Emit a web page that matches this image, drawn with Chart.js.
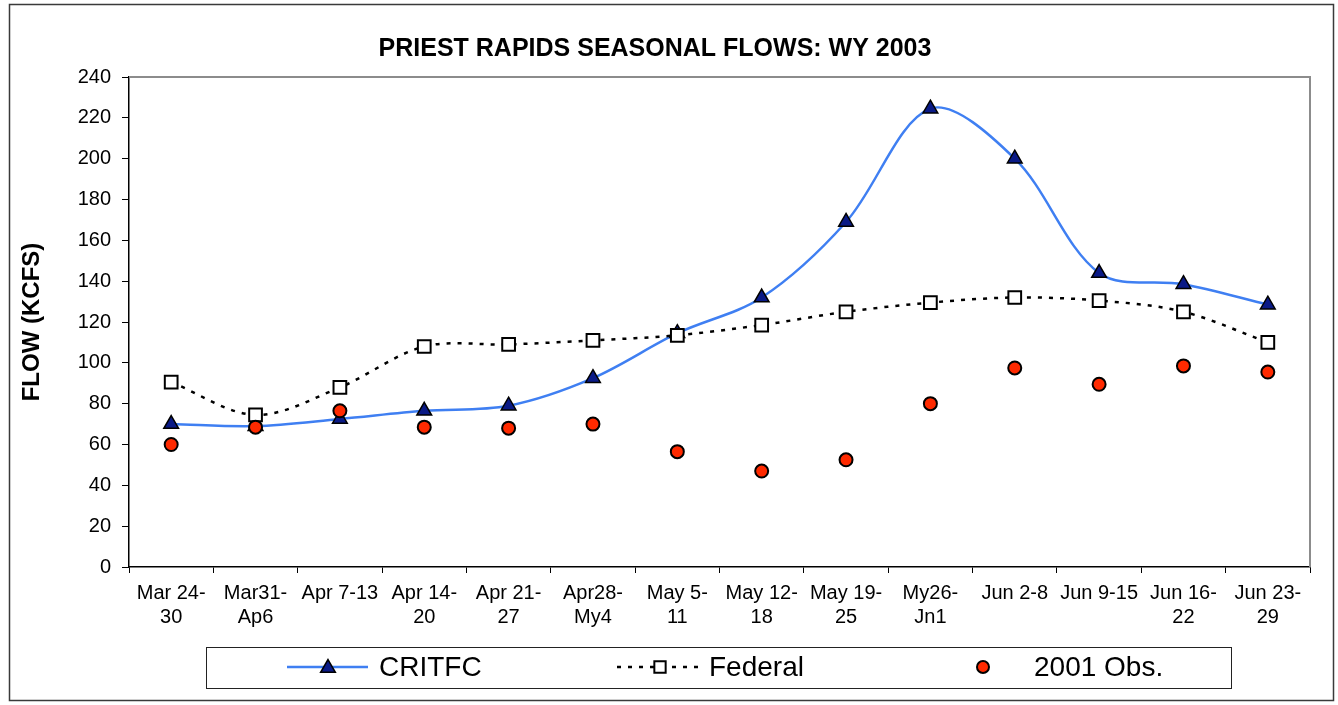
<!DOCTYPE html>
<html>
<head>
<meta charset="utf-8">
<title>Priest Rapids Seasonal Flows</title>
<script src="https://cdn.jsdelivr.net/npm/chart.js@4/dist/chart.umd.min.js"></script>
<style>
  body { margin: 0; background: #fff; }
  #wrap { width: 1338px; height: 705px; }
</style>
</head>
<body>
<div id="wrap"><canvas id="flow-chart" width="1338" height="705"></canvas></div>
<script>

let weekLabels = [
  ["Mar 24-", "30"], ["Mar31-", "Ap6"], ["Apr 7-13"], ["Apr 14-", "20"],
  ["Apr 21-", "27"], ["Apr28-", "My4"], ["May 5-", "11"], ["May 12-", "18"],
  ["May 19-", "25"], ["My26-", "Jn1"], ["Jun 2-8"], ["Jun 9-15"],
  ["Jun 16-", "22"], ["Jun 23-", "29"]
];
let critfcFlow = [70, 69, 72.5, 76.5, 79, 92.5, 114.5, 132, 169, 224.5, 200, 144, 138.5, 128.5];
let federalFlow = [90.5, 74.5, 88, 108, 109, 111, 113.5, 118.5, 125, 129.5, 132, 130.5, 125, 110];
let obs2001Flow = [60, 68.5, 76.5, 68.5, 68, 70, 56.5, 47, 52.5, 80, 97.5, 89.5, 98.5, 95.5];
let yTicks = [0, 20, 40, 60, 80, 100, 120, 140, 160, 180, 200, 220, 240];

let fontFamily = "'Liberation Sans', Arial, Helvetica, sans-serif";
let critfcBlue = "#3f7ff2";
let triangleNavy = "#0a1a86";
let obsRed = "#ff2a00";

Chart.defaults.font.family = fontFamily;
Chart.defaults.color = "#000";

function drawMarker(ctx, style, x, y, r, fill, stroke, width){
  ctx.save();
  ctx.beginPath();
  if (style == "triangle"){
    ctx.moveTo(x, y - r);
    ctx.lineTo(x + r * 0.866, y + r * 0.5);
    ctx.lineTo(x - r * 0.866, y + r * 0.5);
    ctx.closePath();
  } else if (style == "rect"){
    let s = r * Math.SQRT1_2;
    ctx.rect(x - s, y - s, 2 * s, 2 * s);
  } else {
    ctx.arc(x, y, r, 0, Math.PI * 2);
  }
  ctx.fillStyle = fill;
  ctx.fill();
  ctx.lineWidth = width;
  ctx.strokeStyle = stroke;
  ctx.stroke();
  ctx.restore();
}

// plot frame, outer border and the excel style legend box
let framePlugin = {
  id: "frame",
  beforeDatasetsDraw(chart){
    let a = chart.chartArea;
    let ctx = chart.ctx;
    ctx.save();
    ctx.strokeStyle = "#8c8c8c";
    ctx.lineWidth = 2;
    ctx.beginPath();
    ctx.moveTo(a.left, a.top);
    ctx.lineTo(a.right, a.top);
    ctx.lineTo(a.right, a.bottom);
    ctx.stroke();
    ctx.restore();
  },
  afterDraw(chart){
    let ctx = chart.ctx;
    let ds = chart.data.datasets;
    ctx.save();
    ctx.strokeStyle = "#3a3a3a";
    ctx.lineWidth = 1.5;
    ctx.strokeRect(9.5, 4.5, 1324, 696);

    ctx.strokeStyle = "#222";
    ctx.lineWidth = 1;
    ctx.strokeRect(206.5, 647.5, 1025, 41);

    let ly = 667;
    ctx.font = "28px " + fontFamily;
    ctx.fillStyle = "#000";
    ctx.textBaseline = "middle";

    ctx.strokeStyle = ds[0].borderColor;
    ctx.lineWidth = ds[0].borderWidth;
    ctx.beginPath();
    ctx.moveTo(287, ly);
    ctx.lineTo(368, ly);
    ctx.stroke();
    drawMarker(ctx, "triangle", 328, ly + 1, 8.5, triangleNavy, "#000", 1.5);
    ctx.fillText(ds[0].label, 379, ly + 1);

    ctx.strokeStyle = ds[1].borderColor;
    ctx.lineWidth = ds[1].borderWidth;
    ctx.setLineDash(ds[1].borderDash);
    ctx.beginPath();
    ctx.moveTo(617, ly);
    ctx.lineTo(702, ly);
    ctx.stroke();
    ctx.setLineDash([]);
    drawMarker(ctx, "rect", 660, ly, 8, "#fff", "#000", 2);
    ctx.fillText(ds[1].label, 709, ly + 1);

    drawMarker(ctx, "circle", 983, ly, 6, obsRed, "#000", 2);
    ctx.fillText(ds[2].label, 1034, ly + 1);
    ctx.restore();
  }
};

function loadGraph(){
  let ctx = document.getElementById("flow-chart");
  let myChart = new Chart(ctx, {
    type: "line",
    data: {
      labels: weekLabels,
      datasets: [{
          label: "CRITFC",
          data: critfcFlow,
          borderColor: critfcBlue,
          borderWidth: 2.5,
          tension: 0.33,
          fill: false,
          pointStyle: "triangle",
          pointRadius: 8.5,
          pointBackgroundColor: triangleNavy,
          pointBorderColor: "#000",
          pointBorderWidth: 1.5,
          order: 2
        }, {
          label: "Federal",
          data: federalFlow,
          borderColor: "#000",
          borderWidth: 2.5,
          borderDash: [4, 7],
          tension: 0.33,
          fill: false,
          pointStyle: "rect",
          pointRadius: 9,
          pointBackgroundColor: "#fff",
          pointBorderColor: "#000",
          pointBorderWidth: 2,
          order: 1
        }, {
          label: "2001 Obs.",
          data: obs2001Flow,
          showLine: false,
          pointStyle: "circle",
          pointRadius: 6.5,
          pointBackgroundColor: obsRed,
          pointBorderColor: "#000",
          pointBorderWidth: 2,
          order: 0
        }
      ]
    },
    options: {
      responsive: false,
      animation: false,
      devicePixelRatio: 1,
      layout: { padding: { left: 0, right: 28, top: 0, bottom: 0 } },
      plugins: {
        legend: { display: false },
        tooltip: { enabled: false },
        title: {
          display: true,
          text: "PRIEST RAPIDS SEASONAL FLOWS: WY 2003",
          font: { size: 25, weight: "bold" },
          color: "#000",
          padding: { top: 34, bottom: 13 }
        }
      },
      scales: {
        x: {
          type: "category",
          offset: true,
          grid: { display: true, drawOnChartArea: false, drawTicks: true, tickLength: 6, color: "#000", offset: true },
          border: { display: true, color: "#000", width: 1.5 },
          ticks: { autoSkip: false, maxRotation: 0, minRotation: 0, padding: 8, font: { size: 20 }, color: "#000" },
          afterFit(scale){ scale.height = 138; }
        },
        y: {
          min: 0,
          max: 240,
          afterBuildTicks(scale){ scale.ticks = yTicks.map(function(v){ return { value: v }; }); },
          grid: { display: true, drawOnChartArea: false, drawTicks: true, tickLength: 7, color: "#000" },
          border: { display: true, color: "#000", width: 1.5 },
          ticks: { padding: 11, font: { size: 20 }, color: "#000" },
          title: {
            display: true,
            text: "FLOW (KCFS)",
            font: { size: 24, weight: "bold" },
            color: "#000",
            padding: { top: 18, bottom: 0 }
          },
          afterFit(scale){ scale.width = 129; }
        }
      }
    },
    plugins: [framePlugin]
  });
}

loadGraph();
</script>
</body>
</html>
